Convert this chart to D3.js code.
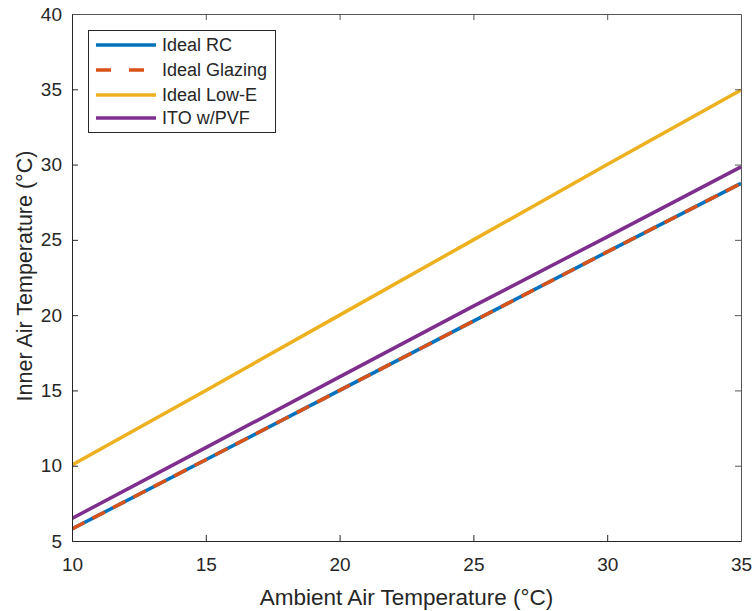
<!DOCTYPE html>
<html><head><meta charset="utf-8">
<script src="https://cdn.jsdelivr.net/npm/d3@7"></script>
<style>body{margin:0;background:#fff}svg{display:block;font-family:"Liberation Sans",Arial,sans-serif}</style>
</head><body><svg id="c" width="756" height="611"></svg>
<script>
const xValues = [10, 15, 20, 25, 30, 35];
const idealRC = [5.8, 10.4, 15.0, 19.6, 24.2, 28.75];
const idealGlazing = [5.8, 10.4, 15.0, 19.6, 24.2, 28.75];
const idealLowE = [10.05, 15.0, 20.0, 25.0, 30.0, 34.95];
const itoPVF = [6.5, 11.2, 15.9, 20.6, 25.2, 29.85];
const xTicks = [10, 15, 20, 25, 30, 35];
const yTicks = [5, 10, 15, 20, 25, 30, 35, 40];
const seriesNames = ["Ideal RC", "Ideal Glazing", "Ideal Low-E", "ITO w/PVF"];

const series = [
  {name: seriesNames[0], vals: idealRC, color: "#0072BD", dash: null},
  {name: seriesNames[1], vals: idealGlazing, color: "#D95319", dash: "14,9"},
  {name: seriesNames[2], vals: idealLowE, color: "#EDB120", dash: null},
  {name: seriesNames[3], vals: itoPVF, color: "#7E2F8E", dash: null}
];

const L = 72, R = 741, T = 14, B = 541;
const svg = d3.select("#c");
const x = d3.scaleLinear().domain([10, 35]).range([L, R]);
const y = d3.scaleLinear().domain([5, 40]).range([B, T]);
const axisColor = "#262626";

svg.append("clipPath").attr("id", "clip").append("rect")
  .attr("x", L).attr("y", T - 3).attr("width", R - L + 3).attr("height", B - T + 3);

const line = d3.line().x((d, i) => x(xValues[i])).y(d => y(d));
const g = svg.append("g").attr("clip-path", "url(#clip)");
series.forEach(s => {
  g.append("path").datum(s.vals).attr("d", line)
    .attr("fill", "none").attr("stroke", s.color).attr("stroke-width", 3.5)
    .attr("stroke-dasharray", s.dash);
});

// axes
const xAxis = svg.append("g").attr("transform", `translate(0,${B})`)
  .call(d3.axisBottom(x).tickValues(xTicks).tickSizeInner(-6).tickSizeOuter(0).tickPadding(17));
const yAxis = svg.append("g").attr("transform", `translate(${L},0)`)
  .call(d3.axisLeft(y).tickValues(yTicks).tickSizeInner(-6).tickSizeOuter(0).tickPadding(10));
const xTop = svg.append("g").attr("transform", `translate(0,${T})`)
  .call(d3.axisTop(x).tickValues(xTicks).tickSizeInner(-6).tickSizeOuter(0).tickFormat(""));
const yRight = svg.append("g").attr("transform", `translate(${R},0)`)
  .call(d3.axisRight(y).tickValues(yTicks).tickSizeInner(-6).tickSizeOuter(0).tickFormat(""));
[xAxis, yAxis].forEach(a => {
  a.selectAll("path,line").attr("stroke", axisColor).attr("stroke-width", 1);
  a.selectAll("text").attr("fill", axisColor).attr("font-size", 19).attr("font-family", "Liberation Sans, Arial, sans-serif");
});
[xTop, yRight].forEach(a => {
  a.selectAll("path,line").attr("stroke", "#555").attr("stroke-width", 1);
});
xTop.selectAll(".tick").filter(d => d === 10 || d === 35).remove();
yRight.selectAll(".tick").filter(d => d === 5 || d === 40).remove();

// axis titles
svg.append("text").attr("x", (L + R) / 2 + 0).attr("y", 605).attr("text-anchor", "middle")
  .attr("font-size", 22.5).attr("fill", axisColor).text("Ambient Air Temperature (°C)");
svg.append("text").attr("transform", `translate(32,276) rotate(-90)`)
  .attr("text-anchor", "middle").attr("font-size", 21.5).attr("fill", axisColor)
  .text("Inner Air Temperature (°C)");

// legend
const lg = svg.append("g");
lg.append("rect").attr("x", 88.5).attr("y", 30.5).attr("width", 187).attr("height", 102)
  .attr("fill", "#fff").attr("stroke", "#262626").attr("stroke-width", 1);
const rowY = [45, 70, 95, 118];
series.forEach((s, i) => {
  lg.append("line").attr("x1", 96).attr("x2", 156).attr("y1", rowY[i]).attr("y2", rowY[i])
    .attr("stroke", s.color).attr("stroke-width", 3.5)
    .attr("stroke-dasharray", s.dash ? "15,18" : null);
  lg.append("text").attr("x", 162).attr("y", rowY[i]).attr("dy", "0.36em")
    .attr("font-size", 18).attr("fill", axisColor).text(s.name);
});
</script></body></html>
